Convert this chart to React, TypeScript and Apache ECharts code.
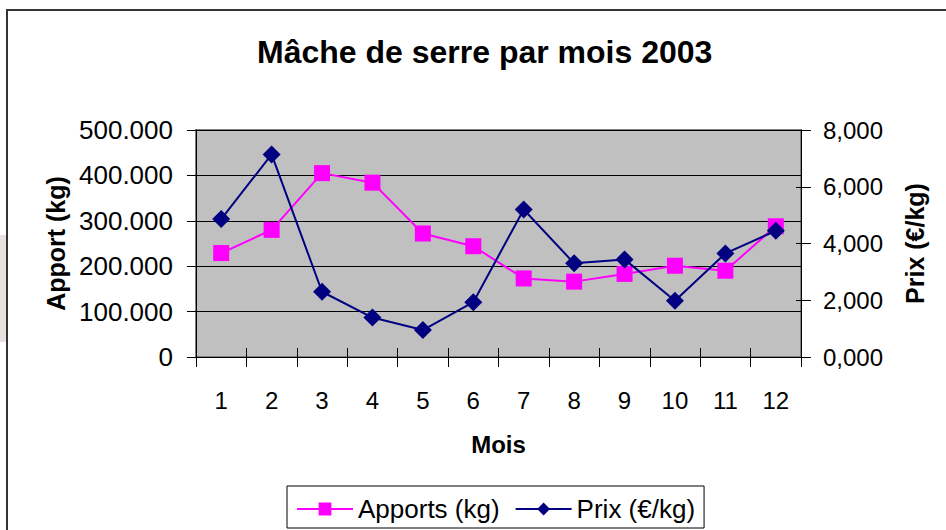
import React, { useEffect, useRef } from "react";
import * as echarts from "echarts";

const months = ["1", "2", "3", "4", "5", "6", "7", "8", "9", "10", "11", "12"];
const apports = [229000, 280000, 405000, 384000, 272000, 244000, 173000, 166000, 183000, 201000, 190000, 288000];
const prix = [4.86, 7.14, 2.3, 1.39, 0.95, 1.93, 5.2, 3.3, 3.44, 1.98, 3.65, 4.45];
const titleText = "Mâche de serre par mois 2003";
const leftName = "Apport (kg)";
const rightName = "Prix (€/kg)";
const xName = "Mois";
const seriesNames = ["Apports (kg)", "Prix (€/kg)"];

const FONT = "'Liberation Sans', Arial, Helvetica, sans-serif";

function fmtLeft(v: number): string {
  if (v === 0) return "0";
  const k = Math.round(v / 1000);
  return k + ".000";
}
function fmtRight(v: number): string {
  return v.toFixed(3).replace(".", ",");
}

export default function App() {
  const ref = useRef<HTMLDivElement>(null);
  useEffect(() => {
    document.body.style.margin = "0";
    document.body.style.background = "#ffffff";
    if (!ref.current) return;
    const chart = echarts.init(ref.current, null, { renderer: "svg" });
    const gridBox = { left: 196, top: 130, width: 605, height: 227 };
    chart.setOption({
      animation: false,
      backgroundColor: "#ffffff",
      textStyle: { fontFamily: FONT },
      graphic: [
        { type: "rect", z: -10, shape: { x: 0, y: 235, width: 6, height: 107 }, style: { fill: "#e8dfdf" } },
        { type: "rect", z: 100, shape: { x: 7, y: 10, width: 980, height: 600 }, style: { fill: "none", stroke: "#333333", lineWidth: 2 } },
      ],
      title: {
        text: titleText,
        left: 257,
        top: 36,
        padding: 0,
        textStyle: { fontFamily: FONT, fontSize: 32, fontWeight: "bold", color: "#000" },
      },
      legend: {
        left: 287,
        top: 486,
        padding: [10, 9, 6, 9],
        itemGap: 15,
        itemWidth: 56,
        itemHeight: 16,
        backgroundColor: "#ffffff",
        borderColor: "#000000",
        borderWidth: 1,
        borderRadius: 0,
        textStyle: { fontFamily: FONT, fontSize: 26, color: "#000" },
        data: seriesNames,
      },
      grid: {
        ...gridBox,
        show: true,
        backgroundColor: "#c0c0c0",
        borderColor: "#808080",
        borderWidth: 2,
      },
      xAxis: [
        {
          type: "category",
          data: months,
          boundaryGap: true,
          position: "bottom",
          name: xName,
          nameLocation: "middle",
          nameGap: 75,
          nameTextStyle: { fontFamily: FONT, fontSize: 24, fontWeight: "bold", color: "#000" },
          axisLine: { show: true, lineStyle: { color: "#000", width: 1 } },
          axisTick: { show: true, length: 10, lineStyle: { color: "#000", width: 1 } },
          axisLabel: { margin: 31, fontFamily: FONT, fontSize: 24, color: "#000" },
          splitLine: { show: false },
        },
        {
          type: "category",
          data: months,
          boundaryGap: true,
          position: "bottom",
          axisLine: { show: false },
          axisTick: { show: true, inside: true, length: 9, lineStyle: { color: "#000", width: 1 } },
          axisLabel: { show: false },
          splitLine: { show: false },
        },
      ],
      yAxis: [
        {
          type: "value",
          position: "left",
          min: 0,
          max: 500000,
          interval: 100000,
          name: leftName,
          nameLocation: "middle",
          nameRotate: 90,
          nameGap: 128,
          nameTextStyle: { fontFamily: FONT, fontSize: 25, fontWeight: "bold", color: "#000" },
          axisLine: { show: true, lineStyle: { color: "#000", width: 1 } },
          axisTick: { show: true, length: 9, lineStyle: { color: "#000", width: 1 } },
          axisLabel: { margin: 23, fontFamily: FONT, fontSize: 26, color: "#000", formatter: fmtLeft },
          splitLine: { show: true, lineStyle: { color: "#000", width: 1 } },
        },
        {
          type: "value",
          position: "right",
          min: 0,
          max: 8,
          interval: 2,
          name: rightName,
          nameLocation: "middle",
          nameRotate: 90,
          nameGap: 101,
          nameTextStyle: { fontFamily: FONT, fontSize: 25, fontWeight: "bold", color: "#000" },
          axisLine: { show: true, lineStyle: { color: "#000", width: 1 } },
          axisTick: { show: true, length: 10, lineStyle: { color: "#000", width: 1 } },
          axisLabel: { margin: 22, fontFamily: FONT, fontSize: 24, color: "#000", formatter: fmtRight },
          splitLine: { show: false },
        },
        {
          type: "value",
          position: "left",
          min: 0,
          max: 500000,
          interval: 100000,
          axisLine: { show: false },
          axisTick: { show: true, inside: true, length: 4, lineStyle: { color: "#000", width: 1 } },
          axisLabel: { show: false },
          splitLine: { show: false },
        },
        {
          type: "value",
          position: "right",
          min: 0,
          max: 8,
          interval: 2,
          axisLine: { show: false },
          axisTick: { show: true, inside: true, length: 5, lineStyle: { color: "#000", width: 1 } },
          axisLabel: { show: false },
          splitLine: { show: false },
        },
      ],
      series: [
        {
          name: seriesNames[0],
          type: "line",
          xAxisIndex: 0,
          yAxisIndex: 0,
          data: apports,
          symbol: "rect",
          symbolSize: 16,
          lineStyle: { color: "#ff00ff", width: 2 },
          itemStyle: { color: "#ff00ff", borderWidth: 0 },
          z: 3,
        },
        {
          name: seriesNames[1],
          type: "line",
          xAxisIndex: 0,
          yAxisIndex: 1,
          data: prix,
          symbol: "diamond",
          symbolSize: 18,
          lineStyle: { color: "#000080", width: 2 },
          itemStyle: { color: "#000080", borderWidth: 0 },
          z: 4,
        },
      ],
    });
    return () => chart.dispose();
  }, []);
  return <div ref={ref} style={{ width: 946, height: 530 }} />;
}
